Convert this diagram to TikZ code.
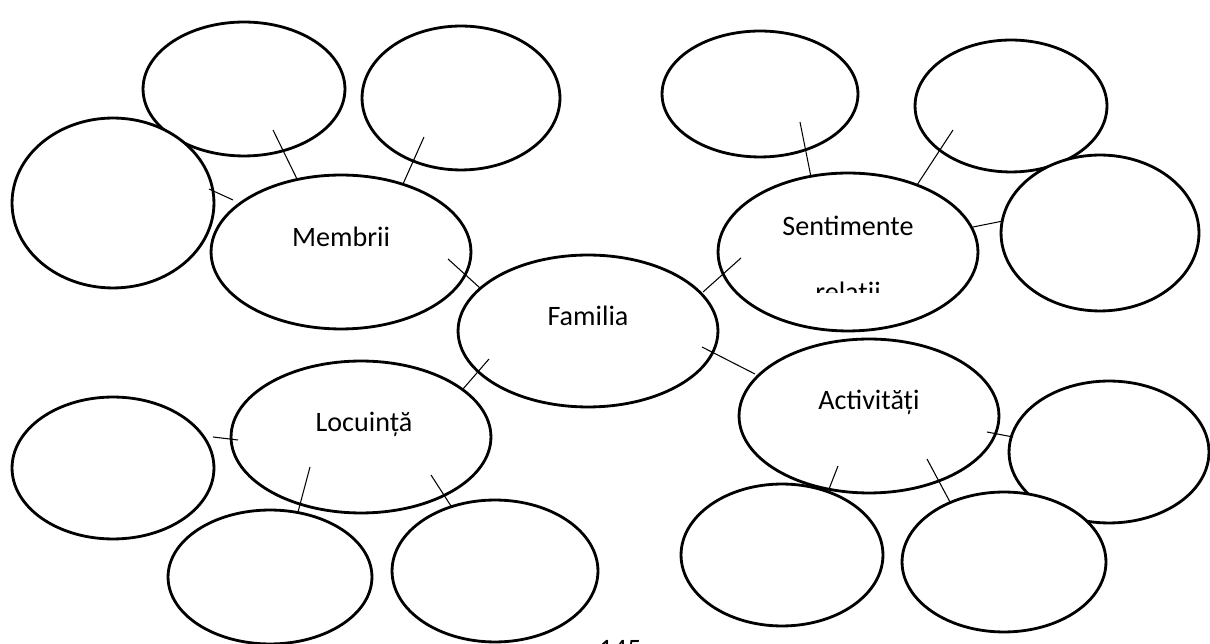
\documentclass[tikz,border=0pt]{standalone}
\usepackage{fontspec}
\setmainfont{Carlito}
\usetikzlibrary{shapes.geometric}
\newcommand\bubble[6][]{\node[bub,#1,minimum width=#4*0.04cm,minimum height=#5*0.04cm] (#6) at (#2,#3) {};}
\begin{document}
\begin{tikzpicture}[x=0.02cm,y=-0.02cm,
  bub/.style={draw=black,line width=1.6pt,ellipse,inner sep=0pt},
  sat/.style={fill=white},
  lbl/.style={anchor=base,inner sep=0pt,font=\fontsize{16}{19}\selectfont},
  conn/.style={draw=black,line width=0.6pt}]
\useasboundingbox (0,0) rectangle (1210,644);
\clip (0,0) rectangle (1210,644);
% satellite ellipses
\bubble[sat]{244}{89}{101}{67}{ma}
\bubble[sat]{461}{98}{99}{72}{mb}
\bubble[sat]{113}{203}{101}{85}{mc}
\bubble[sat]{760}{94}{98}{63}{sa}
\bubble[sat]{1011}{106}{96}{66}{sb}
\bubble[sat]{1100}{233}{99}{78}{sc}
\bubble[sat]{113}{468}{101}{71}{la}
\bubble[sat]{270}{577}{102}{67}{lb}
\bubble[sat]{495}{571}{103}{71}{lc}
\bubble[sat]{782}{555}{101}{71}{aa}
\bubble[sat]{1109}{452}{100}{71}{ac}
\bubble[sat]{1004}{562}{102}{70}{ab}
% main ellipses
\bubble{341}{252}{130}{77}{membrii}
\bubble{588}{331}{130}{76}{familia}
\bubble{848}{252}{130}{79}{sentimente}
\bubble{361}{437}{130}{76}{locuinta}
\bubble{869}{416}{130}{77}{activitati}
% labels
\node[lbl] (tm) at (341,247) {Membrii};
\node[lbl] (tf) at (588,326) {Familia};
\node[lbl] (ts) at (848,236) {Sentimente};
\begin{scope}
\clip (718,150) rectangle (978,293);
\node[lbl] (tr) at (848,302) {relații};
\end{scope}
\node[lbl] (tl) at (364,432) {Locuință};
\node[lbl] (ta) at (869,410) {Activități};
\node[lbl] (pg) at (620,659) {145};
% connector end points
\coordinate (c1a) at (209,189); \coordinate (c1b) at (233,200);
\coordinate (c2a) at (273,130); \coordinate (c2b) at (297,179);
\coordinate (c3a) at (424,137); \coordinate (c3b) at (403,184);
\coordinate (c4a) at (448,259); \coordinate (c4b) at (480,288);
\coordinate (c5a) at (703,292); \coordinate (c5b) at (741,258);
\coordinate (c6a) at (702,347); \coordinate (c6b) at (755,374);
\coordinate (c7a) at (489,359); \coordinate (c7b) at (463,389);
\coordinate (c8a) at (800,122); \coordinate (c8b) at (811,177);
\coordinate (c9a) at (953,130); \coordinate (c9b) at (917,185);
\coordinate (c10a) at (973,227); \coordinate (c10b) at (1003,221);
\coordinate (c11a) at (987,432); \coordinate (c11b) at (1013,437);
\coordinate (c12a) at (838,466); \coordinate (c12b) at (829,489);
\coordinate (c13a) at (927,459); \coordinate (c13b) at (950,502);
\coordinate (c14a) at (213,437); \coordinate (c14b) at (238,440);
\coordinate (c15a) at (310,467); \coordinate (c15b) at (298,512);
\coordinate (c16a) at (431,475); \coordinate (c16b) at (451,506);
\foreach \i in {1,...,16} {\draw[conn] (c\i a) -- (c\i b);}
\end{tikzpicture}
\end{document}
